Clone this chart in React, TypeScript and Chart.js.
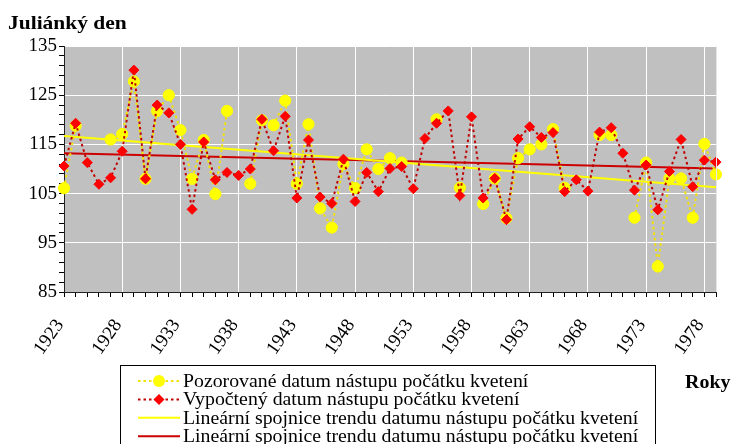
import React, { useEffect, useRef } from 'react';
import { Chart, registerables } from 'chart.js';

Chart.register(...registerables);

// ---- data ----
const years = [
  '1923','1924','1925','1926','1927','1928','1929','1930','1931','1932',
  '1933','1934','1935','1936','1937','1938','1939','1940','1941','1942',
  '1943','1944','1945','1946','1947','1948','1949','1950','1951','1952',
  '1953','1954','1955','1956','1957','1958','1959','1960','1961','1962',
  '1963','1964','1965','1966','1967','1968','1969','1970','1971','1972',
  '1973','1974','1975','1976','1977','1978','1979',
];

// Pozorované (observed) – null where no observation
const observed = [
  106.1, 118.8, null, null, 116.0, 117.1, 127.8, 108.0, 121.8, 125.0,
  117.9, 108.0, 115.9, 104.9, 121.8, null, 107.0, 119.9, 118.9, 123.9,
  107.0, 119.1, 102.0, 98.1, 111.0, 106.1, 114.0, 110.0, 112.2, 111.3,
  null, null, 120.1, null, 106.2, null, 102.9, 108.1, 100.0, 112.2,
  114.0, 115.0, 118.1, 106.2, null, null, 116.9, 116.9, null, 100.1,
  111.3, 90.2, 108.1, 108.1, 100.1, 115.1, 108.9,
];

// Vypočtený (computed)
const computed = [
  110.6, 119.3, 111.3, 106.9, 108.2, 113.6, 130.1, 108.0, 123.0, 121.4,
  115.0, 101.8, 115.5, 107.8, 109.3, 108.7, 110.0, 120.1, 113.7, 120.7,
  104.1, 115.9, 104.3, 103.0, 112.0, 103.4, 109.3, 105.4, 110.1, 110.5,
  106.0, 116.2, 119.3, 121.8, 104.6, 120.6, 104.1, 108.1, 99.7, 116.1,
  118.6, 116.4, 117.4, 105.4, 107.8, 105.5, 117.5, 118.4, 113.2, 105.7,
  110.8, 101.7, 109.5, 116.0, 106.4, 111.8, 111.4,
];

// linear trend end values (first year, last year)
const observedTrend = [116.7, 106.3];
const computedTrend = [113.2, 110.1];

const yLabels = [85, 95, 105, 115, 125, 135];
const yMin = 85;
const yMax = 135;

const seriesNames = [
  'Pozorované datum nástupu počátku kvetení',
  'Vypočtený datum nástupu počátku kvetení',
  'Lineární spojnice trendu datumu nástupu počátku kvetení',
  'Lineární spojnice trendu datumu nástupu počátku kvetení',
];
const yTitle = 'Juliánký den';
const xTitle = 'Roky';

const SERIF = '"Liberation Serif", "Times New Roman", serif';

const YELLOW = '#ffff00';
const YELLOW_LINE = '#f2e200';
const RED = '#ff0000';
const RED_LINE = '#c00000';
const RED_TREND = '#cc0000';

function stretchedText(ctx: CanvasRenderingContext2D, text: string, x: number, y: number, sx: number) {
  ctx.save();
  ctx.translate(x, y);
  ctx.scale(sx, 1);
  ctx.fillText(text, 0, 0);
  ctx.restore();
}

const decorPlugin = {
  id: 'decor',
  beforeDraw(chart: any) {
    const { ctx, chartArea } = chart;
    ctx.save();
    ctx.fillStyle = '#ffffff';
    ctx.fillRect(0, 0, chart.width, chart.height);
    ctx.fillStyle = '#c0c0c0';
    ctx.fillRect(chartArea.left, chartArea.top, chartArea.right - chartArea.left, chartArea.bottom - chartArea.top);
    ctx.restore();
  },
  afterDraw(chart: any) {
    const { ctx, chartArea } = chart;
    ctx.save();
    // right edge of plot area
    ctx.strokeStyle = '#e6e6e6';
    ctx.lineWidth = 1;
    const rx = Math.round(chartArea.right) + 0.5;
    ctx.beginPath();
    ctx.moveTo(rx, chartArea.top);
    ctx.lineTo(rx, chartArea.bottom);
    ctx.stroke();

    // axis titles
    ctx.fillStyle = '#000';
    ctx.textAlign = 'left';
    ctx.textBaseline = 'alphabetic';
    ctx.font = `bold 19px ${SERIF}`;
    stretchedText(ctx, yTitle, 8, 29, 1.13);
    stretchedText(ctx, xTitle, 685, 388, 1.05);

    // legend box
    ctx.strokeStyle = '#000';
    ctx.lineWidth = 1;
    ctx.strokeRect(120.5, 365.5, 535, 100);

    const items = [
      { color: YELLOW_LINE, dash: [2.5, 3], point: 'circle', fill: YELLOW },
      { color: RED_LINE, dash: [2.5, 3], point: 'diamond', fill: RED },
      { color: YELLOW, dash: [], point: null, fill: null },
      { color: RED_TREND, dash: [], point: null, fill: null },
    ];
    ctx.font = `18px ${SERIF}`;
    ctx.textBaseline = 'middle';
    items.forEach((it, i) => {
      const y = 381 + i * 18.4;
      ctx.strokeStyle = it.color;
      ctx.lineWidth = 2;
      ctx.setLineDash(it.dash);
      ctx.beginPath();
      ctx.moveTo(138, y);
      ctx.lineTo(180, y);
      ctx.stroke();
      ctx.setLineDash([]);
      if (it.point === 'circle') {
        ctx.fillStyle = it.fill as string;
        ctx.beginPath();
        ctx.arc(159, y, 6, 0, Math.PI * 2);
        ctx.fill();
      } else if (it.point === 'diamond') {
        ctx.fillStyle = it.fill as string;
        ctx.beginPath();
        ctx.moveTo(159 - 5.5, y);
        ctx.lineTo(159, y - 5.5);
        ctx.lineTo(159 + 5.5, y);
        ctx.lineTo(159, y + 5.5);
        ctx.closePath();
        ctx.fill();
      }
      ctx.fillStyle = '#000';
      stretchedText(ctx, seriesNames[i], 183, y + 1, 1.1);
    });
    ctx.restore();
  },
};

export default function App() {
  const canvasRef = useRef<HTMLCanvasElement | null>(null);

  useEffect(() => {
    const canvas = canvasRef.current;
    if (!canvas) return;
    Chart.defaults.font.family = SERIF;
    const first = years[0];
    const last = years[years.length - 1];
    const chart = new Chart(canvas, {
      type: 'line',
      data: {
        labels: years,
        datasets: [
          {
            label: seriesNames[1],
            data: computed,
            borderColor: RED_LINE,
            borderWidth: 2,
            borderDash: [2.5, 3],
            backgroundColor: RED,
            pointStyle: 'rectRot',
            pointRadius: 5,
            pointBorderWidth: 1,
            pointBorderColor: RED,
            pointBackgroundColor: RED,
            order: 1,
          },
          {
            label: seriesNames[0],
            data: observed,
            borderColor: YELLOW_LINE,
            borderWidth: 2,
            borderDash: [2.5, 3],
            backgroundColor: YELLOW,
            pointStyle: 'circle',
            pointRadius: 5.6,
            pointBorderWidth: 1,
            pointBorderColor: YELLOW,
            pointBackgroundColor: YELLOW,
            spanGaps: false,
            order: 2,
          },
          {
            label: seriesNames[2],
            data: [
              { x: first, y: observedTrend[0] },
              { x: last, y: observedTrend[1] },
            ] as any,
            borderColor: YELLOW,
            borderWidth: 2,
            pointRadius: 0,
            order: 3,
          },
          {
            label: seriesNames[3],
            data: [
              { x: first, y: computedTrend[0] },
              { x: last, y: computedTrend[1] },
            ] as any,
            borderColor: RED_TREND,
            borderWidth: 2,
            pointRadius: 0,
            order: 4,
          },
        ],
      },
      options: {
        animation: false,
        responsive: false,
        maintainAspectRatio: false,
        layout: { padding: { top: 46, right: 17, left: 0, bottom: 0 } },
        plugins: {
          legend: { display: false },
          tooltip: { enabled: false },
        },
        scales: {
          x: {
            type: 'category',
            offset: false,
            afterFit: (scale: any) => {
              scale.height = 152;
              scale.paddingLeft = 0;
              scale.paddingRight = 0;
            },
            grid: {
              color: (ctx: any) => (ctx.index % 5 === 0 ? '#ffffff' : 'rgba(0,0,0,0)'),
              lineWidth: 1,
              tickColor: '#000',
              tickLength: 5,
              drawTicks: true,
            },
            border: { display: true, color: '#222', width: 1 },
            ticks: {
              autoSkip: false,
              maxRotation: 55,
              minRotation: 55,
              padding: 18,
              labelOffset: -4,
              color: '#000',
              font: { size: 19, family: SERIF },
              callback: (_v: any, i: number) => (i % 5 === 0 ? years[i] : ''),
            },
          },
          y: {
            type: 'linear',
            min: yMin,
            max: yMax,
            afterFit: (scale: any) => {
              scale.width = 64;
              scale.paddingTop = 0;
              scale.paddingBottom = 0;
            },
            afterBuildTicks: (scale: any) => {
              const t: any[] = [];
              for (let v = yMin; v <= yMax; v += 2) t.push({ value: v });
              scale.ticks = t;
            },
            grid: {
              color: (ctx: any) =>
                ctx.tick && yLabels.includes(ctx.tick.value) ? '#ffffff' : 'rgba(0,0,0,0)',
              lineWidth: 1,
              tickColor: '#000',
              tickLength: 5,
            },
            border: { display: true, color: '#222', width: 1 },
            ticks: {
              autoSkip: false,
              padding: 2,
              color: '#000',
              font: { size: 19, family: SERIF },
              callback: (v: any) => (yLabels.includes(Number(v)) ? String(v) : ''),
            },
          },
        },
      },
      plugins: [decorPlugin],
    });
    return () => chart.destroy();
  }, []);

  return (
    <div style={{ position: 'fixed', left: 0, top: 0, width: 733, height: 444, background: '#fff' }}>
      <canvas ref={canvasRef} width={733} height={444} style={{ width: 733, height: 444, display: 'block' }} />
    </div>
  );
}
